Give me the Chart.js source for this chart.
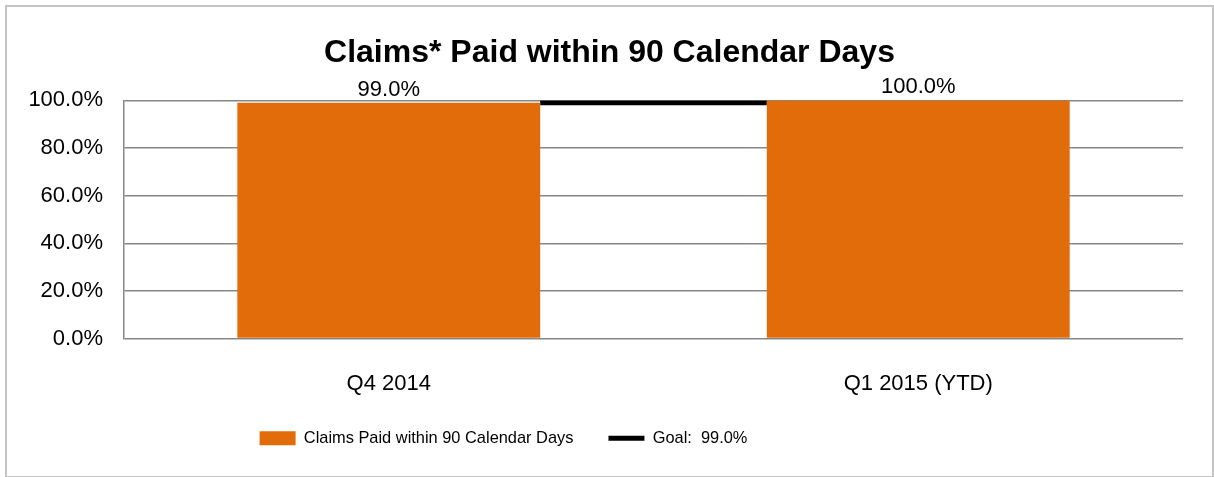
<!DOCTYPE html>
<html>
<head>
<meta charset="utf-8">
<script src="https://cdn.jsdelivr.net/npm/chart.js@4/dist/chart.umd.min.js"></script>
<style>
    html, body { margin: 0; padding: 0; background: #fff; }
    #wrap { position: relative; width: 1214px; height: 477px; }
    #frame { position: absolute; left: 5px; top: 5px; width: 1205px; height: 469px;
             border: 2px solid #c4c4c4; pointer-events: none; }
</style>
</head>
<body>
<div id="wrap">
    <canvas id="claims-chart" width="1214" height="477"></canvas>
    <div id="frame"></div>
</div>
<script>
const categories = ['Q4 2014', 'Q1 2015 (YTD)'];
const paidPct = [99.0, 100.0];
const goalPct = [99.0, 99.0];
const yTicks = [0, 20, 40, 60, 80, 100];

const FONT = "'Liberation Sans', Arial, sans-serif";
const ORANGE = '#e36c0a';
const GRID = '#878787';

// etiquetas de valor encima de cada barra
const barLabels = {
    id: 'barLabels',
    afterDatasetsDraw(chart) {
        const meta = chart.getDatasetMeta(0);
        const ctx = chart.ctx;
        ctx.save();
        ctx.font = `22px ${FONT}`;
        ctx.fillStyle = '#000';
        ctx.textAlign = 'center';
        ctx.textBaseline = 'bottom';
        meta.data.forEach((bar, i) => {
            ctx.fillText(paidPct[i].toFixed(1) + '%', bar.x, bar.y - 2);
        });
        ctx.restore();
    }
};

// la línea de meta sólo se ve entre las dos barras
const goalClip = {
    id: 'goalClip',
    beforeDatasetDraw(chart, args) {
        if (args.index !== 1) return;
        const bars = chart.getDatasetMeta(0).data;
        const x0 = bars[0].x + bars[0].width / 2;
        const x1 = bars[1].x - bars[1].width / 2;
        const ctx = chart.ctx;
        ctx.save();
        ctx.beginPath();
        ctx.rect(x0, 0, x1 - x0, chart.height);
        ctx.clip();
    },
    afterDatasetDraw(chart, args) {
        if (args.index !== 1) return;
        chart.ctx.restore();
    }
};

// la leyenda y el título del original no están centrados
const shiftBoxes = {
    id: 'shiftBoxes',
    afterLayout(chart) {
        chart.legend.left -= 88;
        chart.legend.right -= 88;
        chart.legend.top -= 34;
        chart.titleBlock.left += 18;
        chart.titleBlock.right += 18;
    }
};

new Chart(document.getElementById('claims-chart'), {
    data: {
        labels: categories,
        datasets: [{
            type: 'bar',
            label: 'Claims Paid within 90 Calendar Days',
            data: paidPct,
            backgroundColor: ORANGE,
            borderWidth: 0,
            categoryPercentage: 1,
            barPercentage: 0.572,
            pointStyle: 'rect',
            order: 0
        }, {
            type: 'line',
            label: 'Goal:  99.0%',
            data: goalPct,
            borderColor: '#000',
            backgroundColor: '#000',
            borderWidth: 5,
            pointRadius: 0,
            pointStyle: 'line',
            order: 1
        }]
    },
    options: {
        responsive: false,
        animation: false,
        layout: { padding: { top: 34, right: 31, bottom: 0, left: 0 } },
        scales: {
            x: {
                grid: { display: false, drawTicks: false },
                border: { display: false },
                ticks: { color: '#000', font: { family: FONT, size: 22 }, padding: 32 }
            },
            y: {
                min: 0,
                max: 100,
                afterBuildTicks: (scale) => { scale.ticks = yTicks.map(v => ({ value: v })); },
                afterFit: (scale) => { scale.width = 124; },
                grid: { color: GRID, lineWidth: 1.5, drawTicks: false },
                border: { display: true, color: GRID, width: 1.5 },
                ticks: {
                    color: '#000',
                    font: { family: FONT, size: 22 },
                    padding: 21,
                    callback: (v) => v.toFixed(1) + '%'
                }
            }
        },
        plugins: {
            title: {
                display: true,
                text: 'Claims* Paid within 90 Calendar Days',
                color: '#000',
                font: { family: FONT, size: 32, weight: 'bold' },
                padding: { top: 0, bottom: 28 }
            },
            legend: {
                position: 'bottom',
                maxHeight: 48,
                labels: {
                    color: '#000',
                    font: { family: FONT, size: 16.4 },
                    usePointStyle: true,
                    pointStyleWidth: 36,
                    boxWidth: 36,
                    boxHeight: 14,
                    padding: 35
                }
            },
            tooltip: { enabled: false }
        }
    },
    plugins: [barLabels, goalClip, shiftBoxes]
});
</script>
</body>
</html>
